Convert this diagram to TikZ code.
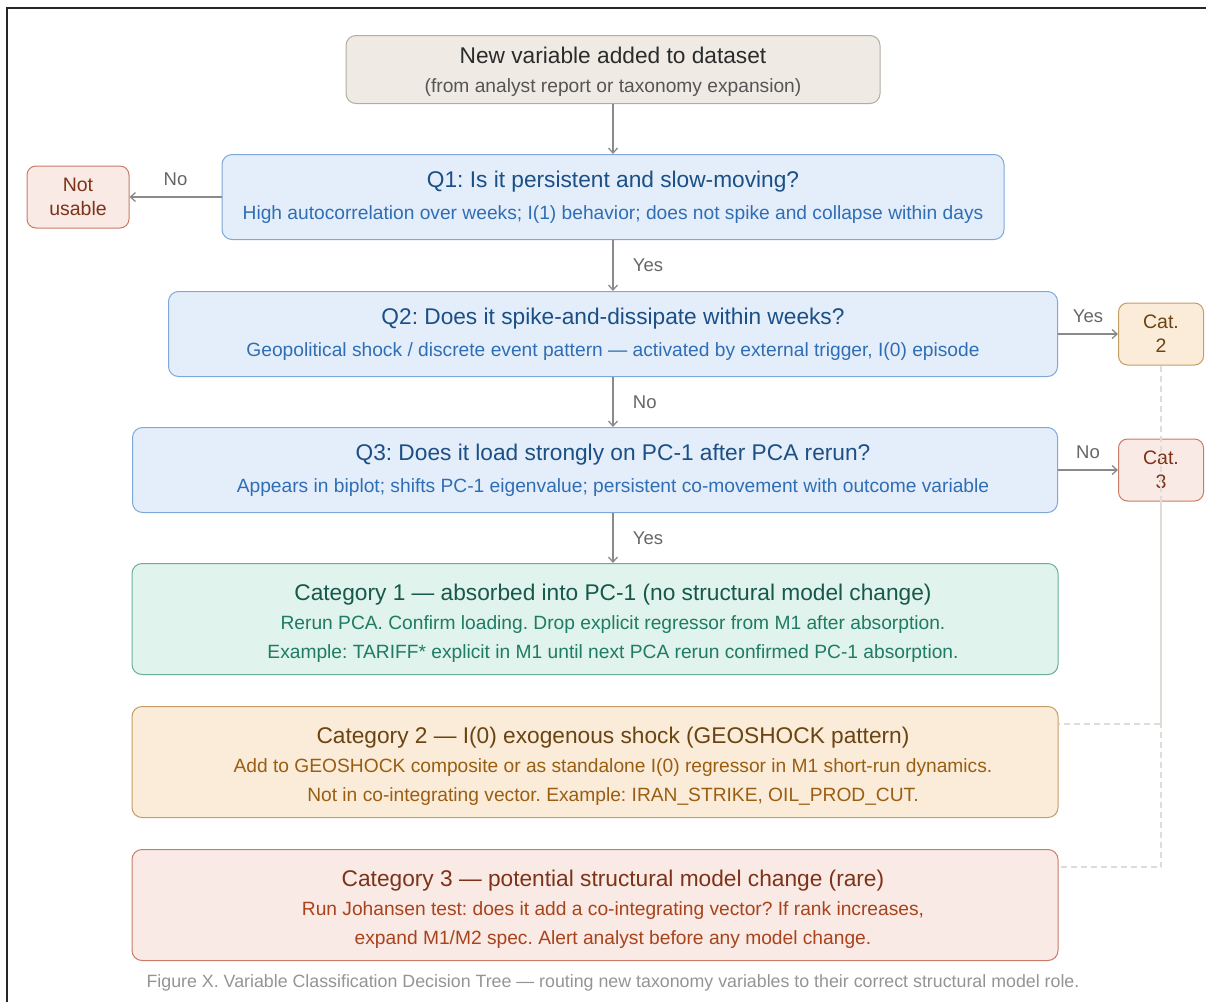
\documentclass[tikz,border=0pt]{standalone}
\usepackage{fontspec}
\setmainfont{Liberation Sans}
\usepackage{xcolor}
\usetikzlibrary{arrows.meta, calc, positioning}
\frenchspacing
\definecolor{startfill}{HTML}{EFEBE4}
\definecolor{startdraw}{HTML}{B3ACA2}
\definecolor{startink}{HTML}{2B2B2B}
\definecolor{startsub}{HTML}{555555}
\definecolor{qfill}{HTML}{E4EEFA}
\definecolor{qdraw}{HTML}{7DA8D8}
\definecolor{qhead}{HTML}{1B4F85}
\definecolor{qsub}{HTML}{2F6EB5}
\definecolor{redfill}{HTML}{F9EAE5}
\definecolor{reddraw}{HTML}{C97B65}
\definecolor{redhead}{HTML}{7E3319}
\definecolor{redsub}{HTML}{A8431C}
\definecolor{goldfill}{HTML}{FAECD8}
\definecolor{golddraw}{HTML}{C49D66}
\definecolor{goldhead}{HTML}{6B4412}
\definecolor{goldsub}{HTML}{9A5E12}
\definecolor{greenfill}{HTML}{E0F3EC}
\definecolor{greendraw}{HTML}{6AAE95}
\definecolor{greenhead}{HTML}{16584A}
\definecolor{greensub}{HTML}{1F7B63}
\definecolor{arrowgray}{HTML}{8A8A8A}
\definecolor{lblgray}{HTML}{666666}
\definecolor{linkgray}{HTML}{DDDDD6}
% title line of a box; optional strut height lowers the text block
\newcommand{\boxhead}[3][0pt]{{\fontsize{22.7}{29}\selectfont\color{#2}\rule{0pt}{#1}#3}}
% the wide boxes sit left of the arrow column, their text does not
\newcommand{\nudge}{\hspace*{36pt}}
\tikzset{
    box/.style={rectangle, rounded corners=10pt, line width=1pt, align=center,
        inner sep=0pt, font=\fontsize{19.2}{29}\selectfont},
    startbox/.style={box, fill=startfill, draw=startdraw, text=startsub,
        minimum width=534pt, minimum height=68pt},
    qbox/.style={box, fill=qfill, draw=qdraw, text=qsub, minimum height=85pt},
    greenbox/.style={box, fill=greenfill, draw=greendraw, text=greensub,
        minimum width=926pt, minimum height=111pt},
    goldbox/.style={box, fill=goldfill, draw=golddraw, text=goldsub,
        minimum width=926pt, minimum height=111pt},
    redbox/.style={box, fill=redfill, draw=reddraw, text=redsub,
        minimum width=926pt, minimum height=111pt},
    smallbox/.style={rectangle, rounded corners=9pt, line width=1pt, align=center,
        inner sep=0pt, minimum width=85pt, minimum height=62pt,
        font=\fontsize{19.5}{24}\selectfont},
    smallred/.style={smallbox, fill=redfill, draw=reddraw, text=redhead},
    smallgold/.style={smallbox, fill=goldfill, draw=golddraw, text=goldhead},
    arrow/.style={-{Straight Barb[length=5pt, width=9pt]}, draw=arrowgray, line width=1.3pt},
    lbl/.style={text=lblgray, font=\fontsize{18.5}{20}\selectfont},
    link/.style={dashed, dash pattern=on 6pt off 4pt, draw=linkgray, line width=1.2pt},
}

\begin{document}
\begin{tikzpicture}[x=1pt, y=-1pt]
    \useasboundingbox (0,0) rectangle (1206,1002);
    \draw[line width=2pt, black!85] (7,1002) -- (7,8) -- (1206,8);

    \node[startbox] (start) at (613,69.5) {
        \boxhead[21.6pt]{startink}{New variable added to dataset}\\
        (from analyst report or taxonomy expansion)
    };
    \node[qbox, minimum width=782pt, below=50pt of start] (q1) {
        \boxhead{qhead}{Q1: Is it persistent and slow-moving?}\\[3pt]
        High autocorrelation over weeks; I(1) behavior; does not spike and collapse within days
    };
    \node[qbox, minimum width=889pt, below=51pt of q1] (q2) {
        \boxhead{qhead}{Q2: Does it spike-and-dissipate within weeks?}\\[3pt]
        Geopolitical shock / discrete event pattern --- activated by external trigger, I(0) episode
    };
    \node[qbox, minimum width=925pt, below=50pt of q2, xshift=-18pt] (q3) {
        \nudge\boxhead{qhead}{Q3: Does it load strongly on PC-1 after PCA rerun?}\\[3pt]
        \nudge Appears in biplot; shifts PC-1 eigenvalue; persistent co-movement with outcome variable
    };
    \node[greenbox, below=50pt of q3] (cat1) {
        \nudge\boxhead[25pt]{greenhead}{Category 1 --- absorbed into PC-1 (no structural model change)}\\
        \nudge Rerun PCA. Confirm loading. Drop explicit regressor from M1 after absorption.\\
        \nudge Example: TARIFF* explicit in M1 until next PCA rerun confirmed PC-1 absorption.
    };
    \node[goldbox, below=31pt of cat1] (cat2) {
        \nudge\boxhead[25pt]{goldhead}{Category 2 --- I(0) exogenous shock (GEOSHOCK pattern)}\\
        \nudge Add to GEOSHOCK composite or as standalone I(0) regressor in M1 short-run dynamics.\\
        \nudge Not in co-integrating vector. Example: IRAN\_STRIKE, OIL\_PROD\_CUT.
    };
    \node[redbox, below=31pt of cat2] (cat3) {
        \nudge\boxhead[25pt]{redhead}{Category 3 --- potential structural model change (rare)}\\
        \nudge Run Johansen test: does it add a co-integrating vector? If rank increases,\\
        \nudge expand M1/M2 spec. Alert analyst before any model change.
    };

    \node[smallred, minimum width=102pt, left=92pt of q1] (unusable) {Not\\usable};
    \node[smallgold, right=60pt of q2] (short2) {Cat.\\2};
    \node[smallred, right=60pt of q3] (short3) {Cat.\\3};

    \draw[arrow] (start.south) -- (start.south |- q1.north);
    \draw[arrow] (q1.west) -- (unusable.east) node[lbl, midway, above=7pt] {No};
    \draw[arrow] (q1.south) -- (q1.south |- q2.north)
        node[lbl, midway, right=16pt] {Yes};
    \draw[arrow] (q2.east) -- (short2.west) node[lbl, midway, above=7pt] {Yes};
    \draw[arrow] (q2.south) -- (q2.south |- q3.north)
        node[lbl, midway, right=16pt] {No};
    \draw[arrow] (q3.east) -- (short3.west) node[lbl, midway, above=7pt] {No};
    \draw[arrow] (q2.south |- q3.south) -- (q2.south |- cat1.north)
        node[lbl, midway, right=16pt] {Yes};

    \coordinate (cat2in) at ([yshift=-18pt]cat2.north east);
    \coordinate (cat3in) at ([yshift=-18pt]cat3.north east);
    \draw[link] (short2.south) |- (cat2in);
    \draw[link] (short3.south) |- (cat3in);

    \node[text=black!42, font=\fontsize{17.8}{20}\selectfont] (caption) at (613,983)
        {Figure X. Variable Classification Decision Tree --- routing new taxonomy variables to their correct structural model role.};
\end{tikzpicture}
\end{document}
